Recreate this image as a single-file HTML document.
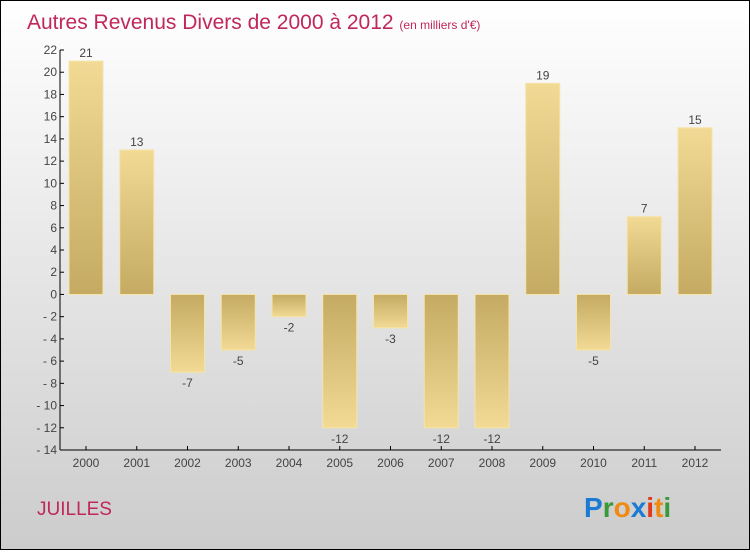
<!DOCTYPE html>
<html><head><meta charset="utf-8"><style>
html,body{margin:0;padding:0}
body{width:750px;height:550px;overflow:hidden;font-family:"Liberation Sans",sans-serif}
#wrap{position:relative;width:748px;height:548px;border:1px solid #000;background:linear-gradient(#fff,#ccc)}
</style></head><body>
<div id="wrap">
<svg id="chart" width="748" height="548">
<defs><linearGradient id="g" x1="0" y1="0" x2="0" y2="1"><stop offset="0" stop-color="#f2da95"/><stop offset="1" stop-color="#c4aa62"/></linearGradient>
<linearGradient id="gn" x1="0" y1="0" x2="0" y2="1"><stop offset="0" stop-color="#c4aa62"/><stop offset="1" stop-color="#f2da95"/></linearGradient></defs>
<text x="26" y="28" font-size="21" fill="#c0275a">Autres Revenus Divers de 2000 à 2012 <tspan font-size="12">(en milliers d'€)</tspan></text>
<text x="36" y="514" font-size="19" fill="#c0275a">JUILLES</text>
<g id="logo" font-size="28" font-weight="bold" font-family="Liberation Sans, sans-serif">
<text x="583" y="516"><tspan fill="#1a7ad4">P</tspan><tspan fill="#3a9a3a">r</tspan><tspan fill="#f08a10">o</tspan><tspan fill="#1a7ad4">x</tspan><tspan fill="#e03a1a">i</tspan><tspan fill="#f08a10">t</tspan><tspan fill="#3a9a3a">i</tspan></text></g>
<g id="axes"></g><g id="bars"></g>
</svg></div>
<script>
const years=["2000","2001","2002","2003","2004","2005","2006","2007","2008","2009","2010","2011","2012"];
const values=[21,13,-7,-5,-2,-12,-3,-12,-12,19,-5,7,15];
const yTicks=[22,20,18,16,14,12,10,8,6,4,2,0,-2,-4,-6,-8,-10,-12,-14];
const NS="http://www.w3.org/2000/svg";
const yMin=-14,yMax=22,top0=49,bot=449,left=59,right=720;
const y=v=>top0+(yMax-v)/(yMax-yMin)*(bot-top0);
const x=i=>85+i*50.75;
function mk(t,a,p){const e=document.createElementNS(NS,t);for(const k in a)e.setAttribute(k,a[k]);p.appendChild(e);return e;}
const ax=document.getElementById('axes'),bg=document.getElementById('bars');
const yl=mk('line',{x1:left,y1:top0,x2:left,y2:bot,stroke:'#000'},ax);


const xl=mk('line',{x1:left,y1:bot,x2:right,y2:bot,stroke:'#000'},ax);


yTicks.forEach(v=>{
 mk('line',{x1:left,y1:y(v),x2:left+4,y2:y(v),stroke:'#000'},ax);
 const t=mk('text',{x:left-3,y:y(v)+4,'text-anchor':'end','font-size':12,fill:'#444'},ax);
 t.textContent=v<0?'- '+(-v):v;
 
 
});
years.forEach((yr,i)=>{
 mk('line',{x1:x(i),y1:bot,x2:x(i),y2:bot-4,stroke:'#000'},ax);
 const t=mk('text',{x:x(i),y:bot+17,'text-anchor':'middle','font-size':12,fill:'#444'},ax);
 t.textContent=yr;
 
 
 const v=values[i],y0=y(0),yv=y(v);
 const r=mk('rect',{x:x(i)-17,y:Math.min(y0,yv),width:34,height:Math.abs(yv-y0),fill:v>=0?'url(#g)':'url(#gn)',stroke:'#f5e4a8','stroke-width':1},bg);
 
 
 const l=mk('text',{x:x(i),y:v>=0?yv-4:yv+15,'text-anchor':'middle','font-size':12,fill:'#444'},bg);
 l.textContent=v;
 
 
});
</script>
</body></html>
